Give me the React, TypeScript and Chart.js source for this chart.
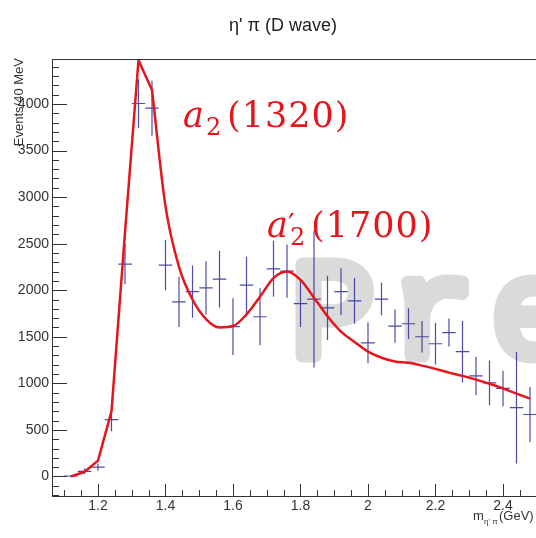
import React, { useEffect, useRef } from "react";
import { Chart, registerables } from "chart.js";

Chart.register(...registerables);

// ---- data ----
const massBins = [
  1.12, 1.16, 1.2, 1.24, 1.28, 1.32, 1.36, 1.4, 1.44, 1.48, 1.52, 1.56, 1.6, 1.64, 1.68, 1.72, 1.76, 1.8,
  1.84, 1.88, 1.92, 1.96, 2.0, 2.04, 2.08, 2.12, 2.16, 2.2, 2.24, 2.28, 2.32, 2.36, 2.4, 2.44, 2.48,
];
const events = [
  5, 55, 100, 610, 2280, 4005, 3955, 2270, 1875, 1985, 2025, 2120, 1610, 2055, 1715, 2230, 2205, 1855,
  1905, 1810, 1985, 1885, 1435, 1905, 1615, 1640, 1500, 1425, 1545, 1340, 1080, 1005, 945, 740, 665,
];
const eventErrors = [
  10, 30, 40, 125, 215, 260, 295, 270, 270, 280, 285, 305, 305, 305, 305, 300, 285, 250,
  735, 345, 250, 245, 220, 175, 178, 165, 170, 222, 150, 330, 205, 240, 190, 600, 295,
];
// fit curve: steep rising edge + peak (straight segments) and the smooth tail
const fitRiseMass = [1.12, 1.16, 1.2, 1.24, 1.28, 1.32, 1.36];
const fitRiseValues = [0, 50, 170, 700, 2620, 4470, 4150];
const fitTailMass = [
  1.36, 1.4, 1.44, 1.48, 1.52, 1.56, 1.6, 1.64, 1.68, 1.72, 1.76, 1.8, 1.84, 1.88, 1.92, 1.96, 2.0,
  2.04, 2.08, 2.12, 2.16, 2.2, 2.24, 2.28, 2.32, 2.36, 2.4, 2.44, 2.48,
];
const fitTailValues = [
  4150, 2900, 2250, 1900, 1690, 1600, 1615, 1740, 1930, 2130, 2200, 2110, 1920, 1720, 1555, 1445, 1340,
  1275, 1235, 1220, 1190, 1155, 1115, 1080, 1040, 995, 945, 890, 835,
];
const xTickLabels = [1.2, 1.4, 1.6, 1.8, 2.0, 2.2, 2.4];
const yTickLabels = [0, 500, 1000, 1500, 2000, 2500, 3000, 3500, 4000];
const binHalfWidth = 0.02;

const X_MIN = 1.0637;
const X_MAX = 2.4978;
const Y_MIN = -210;
const Y_MAX = 4483;

const SANS = "'Liberation Sans', Arial, sans-serif";
const SERIF = "'DejaVu Serif', serif";
const RED = "#e5151c";

function drawResonance(ctx: CanvasRenderingContext2D, x: number, base: number, prime: boolean, mass: string) {
  ctx.save();
  ctx.fillStyle = RED;
  ctx.textBaseline = "alphabetic";
  ctx.textAlign = "left";
  ctx.font = `italic 35px ${SERIF}`;
  ctx.fillText("a", x, base);
  if (prime) {
    ctx.font = `30px ${SERIF}`;
    ctx.fillText("\u2032", x + 21, base - 2);
  }
  ctx.font = `24px ${SERIF}`;
  ctx.fillText("2", x + 23, base + 8);
  ctx.font = `35px ${SERIF}`;
  (ctx as any).letterSpacing = "1px";
  ctx.fillText(`(${mass})`, x + 44, base);
  ctx.restore();
}

const rootStyle = {
  id: "rootStyle",
  beforeDatasetsDraw(chart: any) {
    const { ctx, chartArea: a, scales } = chart;
    const xs = scales.x;
    const ys = scales.y;
    ctx.save();
    ctx.beginPath();
    ctx.rect(a.left, a.top, a.right - a.left, a.bottom - a.top);
    ctx.clip();
    // watermark
    ctx.fillStyle = "#dadada";
    ctx.strokeStyle = "#dadada";
    ctx.lineWidth = 13;
    ctx.lineJoin = "round";
    ctx.lineCap = "round";
    ctx.font = `140px 'Liberation Mono', 'Courier New', monospace`;
    (ctx as any).letterSpacing = "16px";
    ctx.textBaseline = "alphabetic";
    ctx.fillText("Preliminary", 291, 356);
    ctx.strokeText("Preliminary", 291, 356);
    (ctx as any).letterSpacing = "0px";
    // error bars
    ctx.strokeStyle = "rgba(45,45,150,0.85)";
    ctx.lineWidth = 1.2;
    ctx.lineCap = "butt";
    massBins.forEach((m, i) => {
      const px = xs.getPixelForValue(m);
      const py = ys.getPixelForValue(events[i]);
      const x0 = xs.getPixelForValue(m - binHalfWidth);
      const x1 = xs.getPixelForValue(m + binHalfWidth);
      const y0 = ys.getPixelForValue(events[i] - eventErrors[i]);
      const y1 = ys.getPixelForValue(events[i] + eventErrors[i]);
      ctx.beginPath();
      ctx.moveTo(x0, py);
      ctx.lineTo(x1, py);
      ctx.moveTo(px, y0);
      ctx.lineTo(px, y1);
      ctx.stroke();
    });
    ctx.restore();
  },
  afterDraw(chart: any) {
    const { ctx, chartArea: a, scales } = chart;
    const xs = scales.x;
    const ys = scales.y;
    ctx.save();
    ctx.strokeStyle = "#333";
    ctx.lineWidth = 1;
    // frame top
    ctx.beginPath();
    ctx.moveTo(a.left, a.top + 0.5);
    ctx.lineTo(a.right, a.top + 0.5);
    ctx.stroke();
    // y ticks inside
    ctx.beginPath();
    for (let v = -200; v <= 4400; v += 100) {
      const py = Math.round(ys.getPixelForValue(v)) + 0.5;
      const len = v % 500 === 0 ? 15 : 7;
      ctx.moveTo(a.left, py);
      ctx.lineTo(a.left + len, py);
    }
    // x ticks inside
    for (let k = 22; k <= 49; k++) {
      const v = k * 0.05;
      const px = Math.round(xs.getPixelForValue(v)) + 0.5;
      const len = k % 4 === 0 ? 12 : 6;
      ctx.moveTo(px, a.bottom);
      ctx.lineTo(px, a.bottom - len);
    }
    ctx.stroke();

    // title
    ctx.fillStyle = "#222";
    ctx.textAlign = "center";
    ctx.textBaseline = "alphabetic";
    ctx.font = `18px ${SANS}`;
    ctx.fillText("\u03b7' \u03c0 (D wave)", 283, 31);

    // y axis title
    ctx.save();
    ctx.translate(23, 58);
    ctx.rotate(-Math.PI / 2);
    ctx.textAlign = "right";
    ctx.font = `13px ${SANS}`;
    ctx.fillStyle = "#333";
    ctx.fillText("Events/40 MeV", 0, 0);
    ctx.restore();

    // x axis title
    ctx.textAlign = "left";
    ctx.fillStyle = "#333";
    ctx.font = `13px ${SANS}`;
    ctx.fillText("m", 473, 520);
    ctx.font = `8px ${SANS}`;
    ctx.fillText("\u03b7' \u03c0", 484, 524);
    ctx.font = `13px ${SANS}`;
    ctx.fillText("(GeV)", 499, 520);

    // resonance labels
    drawResonance(ctx, 183, 127, false, "1320");
    drawResonance(ctx, 267, 237, true, "1700");
    ctx.restore();
  },
};

export default function App() {
  const ref = useRef<HTMLCanvasElement | null>(null);
  useEffect(() => {
    if (!ref.current) return;
    const chart = new Chart(ref.current, {
      type: "scatter",
      data: {
        datasets: [
          {
            type: "line",
            label: "fit rise",
            data: fitRiseMass.map((m, i) => ({ x: m, y: fitRiseValues[i] })),
            borderColor: RED,
            borderWidth: 2.5,
            pointRadius: 0,
            tension: 0,
            fill: false,
            order: 0,
          } as any,
          {
            type: "line",
            label: "fit tail",
            data: fitTailMass.map((m, i) => ({ x: m, y: fitTailValues[i] })),
            borderColor: RED,
            borderWidth: 2.5,
            pointRadius: 0,
            cubicInterpolationMode: "monotone",
            fill: false,
            order: 0,
          } as any,
          {
            label: "data",
            data: massBins.map((m, i) => ({ x: m, y: events[i] })),
            pointRadius: 0,
            pointHoverRadius: 0,
            order: 1,
          },
        ],
      },
      options: {
        animation: false,
        responsive: false,
        devicePixelRatio: 1,
        events: [],
        layout: { padding: { top: 59, left: 0, right: 0, bottom: 0 } },
        plugins: { legend: { display: false }, tooltip: { enabled: false }, title: { display: false } },
        scales: {
          x: {
            type: "linear",
            min: X_MIN,
            max: X_MAX,
            grid: { display: false, drawTicks: false },
            border: { display: true, color: "#333", width: 1 },
            afterBuildTicks: (s: any) => {
              s.ticks = xTickLabels.map((v) => ({ value: v }));
            },
            afterFit: (s: any) => {
              s.height = 42;
            },
            ticks: {
              autoSkip: false,
              maxRotation: 0,
              minRotation: 0,
              padding: 2,
              color: "#333",
              font: { family: SANS, size: 14 },
              callback: (v: any) => String(v),
            },
          },
          y: {
            type: "linear",
            min: Y_MIN,
            max: Y_MAX,
            grid: { display: false, drawTicks: false },
            border: { display: true, color: "#333", width: 1 },
            afterBuildTicks: (s: any) => {
              s.ticks = yTickLabels.map((v) => ({ value: v }));
            },
            afterFit: (s: any) => {
              s.width = 52;
            },
            ticks: {
              autoSkip: false,
              padding: 3,
              color: "#333",
              font: { family: SANS, size: 14 },
              callback: (v: any) => String(v),
            },
          },
        },
      },
      plugins: [rootStyle],
    });
    return () => chart.destroy();
  }, []);
  return (
    <div style={{ position: "fixed", left: 0, top: 0, width: 536, height: 538, background: "#fff" }}>
      <canvas ref={ref} width={536} height={538} />
    </div>
  );
}
